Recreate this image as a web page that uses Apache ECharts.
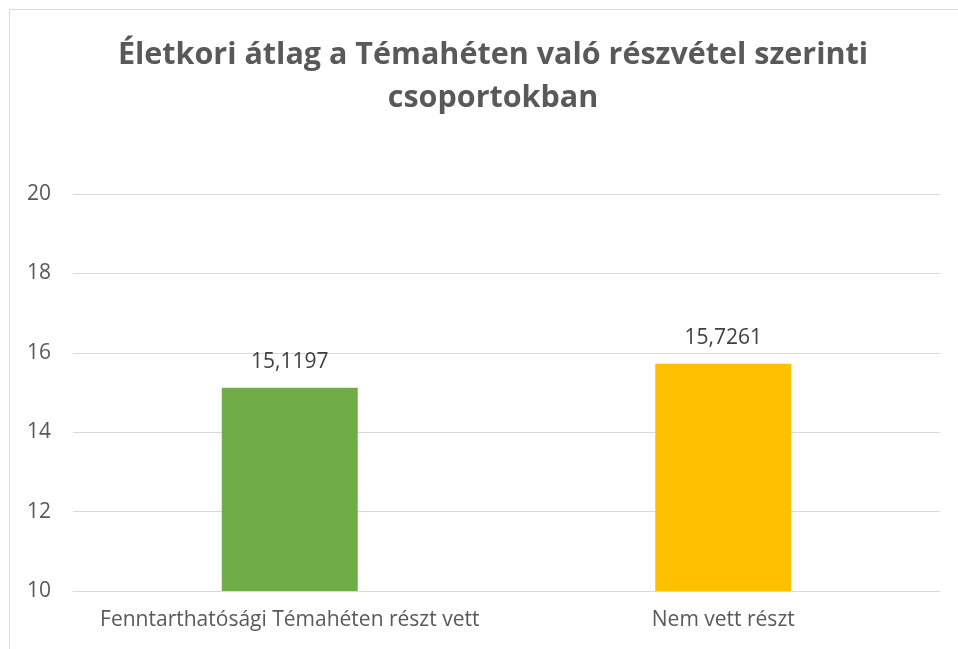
<!DOCTYPE html>
<html><head><meta charset="utf-8">
<script src="https://cdn.jsdelivr.net/npm/echarts@6/dist/echarts.min.js"></script>
<style>html,body{margin:0;padding:0;background:#fff}#c{width:958px;height:649px}</style>
</head><body><div id="c"></div>
<script>
const titleText = 'Életkori átlag a Témahéten való részvétel szerinti\ncsoportokban';
const categories = ['Fenntarthatósági Témahéten részt vett', 'Nem vett részt'];
const values = [15.1197, 15.7261];
const barColors = ['#70ad47', '#ffc000'];
const yMin = 10, yMax = 20, yStep = 2;

const chart = echarts.init(document.getElementById('c'));
const font = '"Open Sans", sans-serif';
chart.setOption({
  animation: false,
  title: {
    text: titleText, left: 488, textAlign: 'center', top: 29,
    textStyle: {fontFamily: font, fontSize: 30.5, fontWeight: 'bold', color: '#595959', lineHeight: 43}
  },
  graphic: [{type: 'rect', shape: {x: 9.5, y: 9.5, width: 1000, height: 700}, style: {fill: 'none', stroke: '#d9d9d9', lineWidth: 1}, silent: true}],
  grid: {left: 73, right: 18, top: 194, bottom: 58, containLabel: false},
  xAxis: {
    type: 'category', data: categories,
    axisLine: {show: true, lineStyle: {color: '#d9d9d9'}},
    axisTick: {show: false},
    axisLabel: {fontFamily: font, fontSize: 21, color: '#595959', margin: 19, interval: 0, hideOverlap: false}
  },
  yAxis: {
    type: 'value', min: yMin, max: yMax, interval: yStep,
    axisLine: {show: false}, axisTick: {show: false},
    splitLine: {lineStyle: {color: '#d9d9d9'}},
    axisLabel: {fontFamily: font, fontSize: 21, color: '#595959', margin: 46, align: 'left'}
  },
  series: [{
    type: 'bar', barWidth: 136,
    data: values.map((v, i) => ({value: v, itemStyle: {color: barColors[i]}})),
    label: {show: true, position: 'top', distance: 15, fontFamily: font, fontSize: 21, color: '#404040',
      formatter: p => String(p.value).replace('.', ',')}
  }]
});
</script></body></html>
